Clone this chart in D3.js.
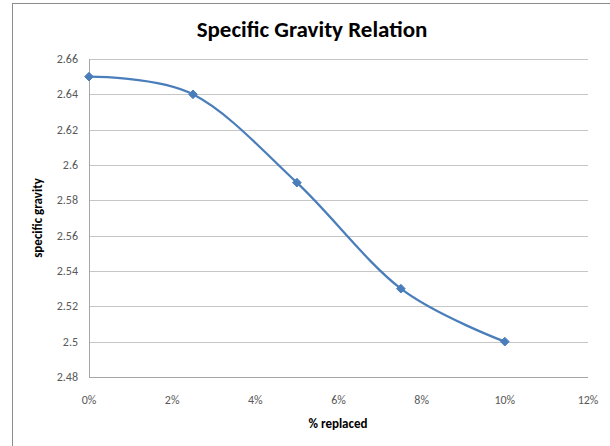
<!DOCTYPE html>
<html><head><meta charset="utf-8">
<script src="https://cdn.jsdelivr.net/npm/d3@7"></script>
<style>body{margin:0;background:#fff}svg{display:block}</style>
</head><body>
<svg id="c" width="610" height="446"></svg>
<script>
const xValues = [0, 2.5, 5, 7.5, 10];
const gravity = [2.65, 2.64, 2.59, 2.53, 2.50];
const xTicks = [0, 2, 4, 6, 8, 10, 12];
const yTicks = [2.48, 2.50, 2.52, 2.54, 2.56, 2.58, 2.60, 2.62, 2.64, 2.66];
const title = "Specific Gravity Relation";
const xTitle = "% replaced";
const yTitle = "specific gravity";

const svg = d3.select("#c");
const font = "Carlito, Lato, 'Liberation Sans', sans-serif";
const L = 89, R = 588, T = 59, B = 377;

svg.append("rect").attr("x", 12.5).attr("y", 3.5).attr("width", 620).attr("height", 460)
  .attr("fill", "#fff").attr("stroke", "#8c8c8c").attr("stroke-width", 1);

const x = d3.scaleLinear().domain([0, 12]).range([L, R]);
const y = d3.scaleLinear().domain([2.48, 2.66]).range([B, T]);

// gridlines
svg.append("g").selectAll("line").data(yTicks).join("line")
  .attr("x1", L).attr("x2", R)
  .attr("y1", d => Math.round(y(d)) + 0.5).attr("y2", d => Math.round(y(d)) + 0.5)
  .attr("stroke", "#c6c6c6").attr("stroke-width", 1);

// axes lines
svg.append("line").attr("x1", L + 0.5).attr("x2", L + 0.5).attr("y1", T).attr("y2", B)
  .attr("stroke", "#a6a6a6");
svg.append("line").attr("x1", L).attr("x2", R).attr("y1", Math.round(B) + 0.5).attr("y2", Math.round(B) + 0.5)
  .attr("stroke", "#a6a6a6");

// y tick labels
svg.append("g").selectAll("text").data(yTicks).join("text")
  .attr("x", 78).attr("y", d => y(d) + 4)
  .attr("text-anchor", "end").attr("font-family", font).attr("font-size", 12)
  .attr("fill", "#595959").text(d => d3.format("")(+d.toFixed(2)));

// x tick labels
svg.append("g").selectAll("text").data(xTicks).join("text")
  .attr("x", d => x(d)).attr("y", 404)
  .attr("text-anchor", "middle").attr("font-family", font).attr("font-size", 12)
  .attr("fill", "#595959").text(d => d + "%");

// titles
svg.append("text").attr("x", 312).attr("y", 37).attr("text-anchor", "middle")
  .attr("font-family", font).attr("font-weight", "bold").attr("font-size", 23)
  .attr("fill", "#000").text(title);
svg.append("text").attr("x", 338).attr("y", 428).attr("text-anchor", "middle")
  .attr("font-family", font).attr("font-weight", "bold").attr("font-size", 13)
  .attr("fill", "#000").text(xTitle);
svg.append("text").attr("transform", "translate(42,218) rotate(-90)").attr("text-anchor", "middle")
  .attr("font-family", font).attr("font-weight", "bold").attr("font-size", 13)
  .attr("fill", "#000").text(yTitle);

const data = xValues.map((v, i) => [v, gravity[i]]);
const line = d3.line().x(d => x(d[0])).y(d => y(d[1])).curve(d3.curveCatmullRom.alpha(0));
svg.append("path").datum(data).attr("d", line).attr("fill", "none")
  .attr("stroke", "#4a7ebb").attr("stroke-width", 2.25).attr("stroke-linejoin", "round");

svg.append("g").selectAll("path").data(data).join("path")
  .attr("d", d3.symbol(d3.symbolDiamond2, 48))
  .attr("transform", d => `translate(${x(d[0])},${y(d[1])})`)
  .attr("fill", "#4a7ebb").attr("stroke", "#4a7ebb").attr("stroke-width", 1);
</script>
</body></html>
